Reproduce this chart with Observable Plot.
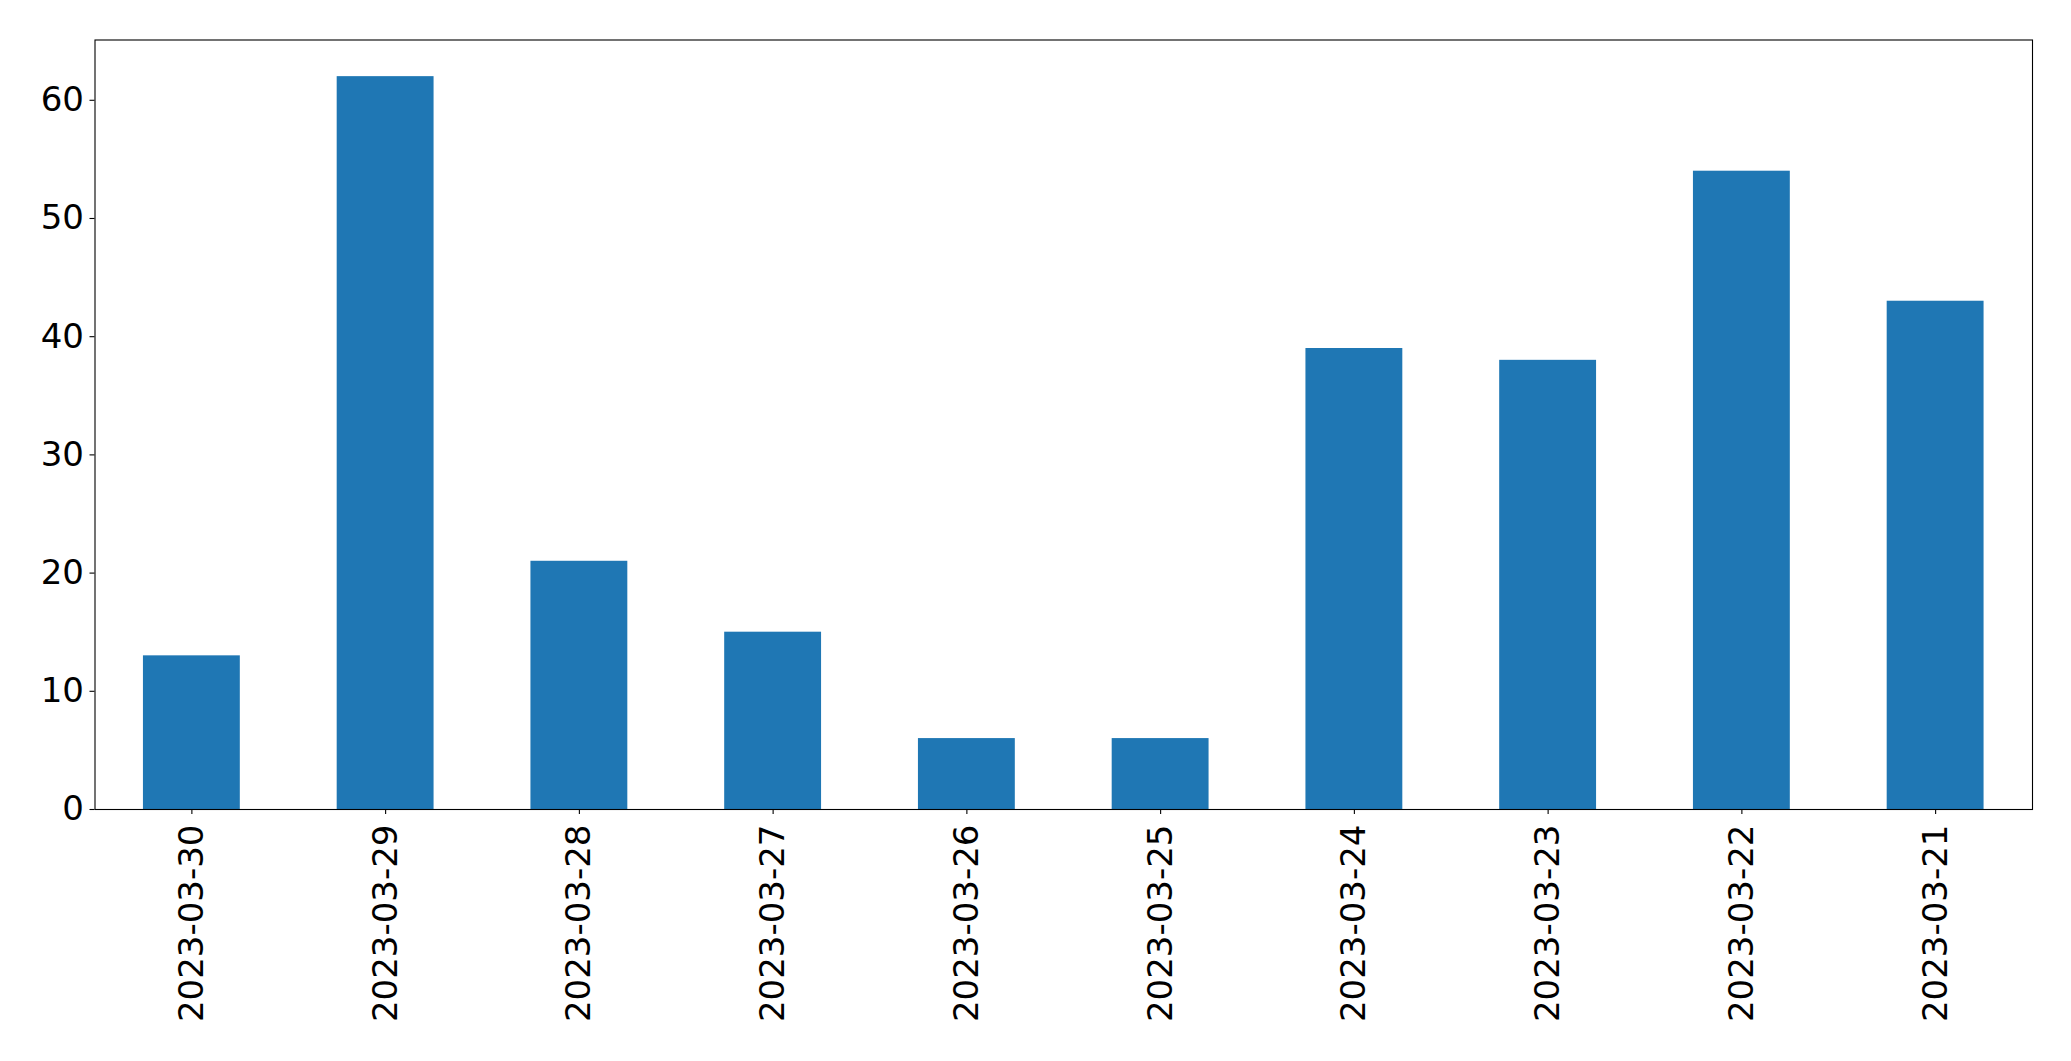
<!DOCTYPE html>
<html>
<head>
<meta charset="utf-8">
<script src="https://cdn.jsdelivr.net/npm/d3@7"></script>
<script src="https://cdn.jsdelivr.net/npm/@observablehq/plot@0.6"></script>
<style>
  html, body { margin: 0; padding: 0; background: #fff; }
  #chart svg { display: block; }
</style>
</head>
<body>
<div id="chart"></div>
<script>
const dates = ["2023-03-30", "2023-03-29", "2023-03-28", "2023-03-27", "2023-03-26",
               "2023-03-25", "2023-03-24", "2023-03-23", "2023-03-22", "2023-03-21"];
const counts = [13, 62, 21, 15, 6, 6, 39, 38, 54, 43];
const yTicks = [0, 10, 20, 30, 40, 50, 60];

const data = dates.map((d, i) => ({date: d, count: counts[i]}));

const chart = Plot.plot({
  width: 2071,
  height: 1061,
  marginLeft: 94.5,
  marginRight: 39,
  marginTop: 39.5,
  marginBottom: 252,
  style: {
    fontFamily: "DejaVu Sans, sans-serif",
    fontSize: "34px",
    background: "#ffffff",
    color: "#000000"
  },
  x: {type: "band", domain: dates, paddingInner: 0.5, paddingOuter: 0.25, round: false, label: null},
  y: {domain: [0, 65.1], label: null},
  marks: [
    Plot.barY(data, {x: "date", y: "count", fill: "#1f77b4", insetLeft: 0, insetRight: 0}),
    Plot.axisY({ticks: yTicks, tickSize: 5, tickPadding: 6, label: null, stroke: "#000", strokeWidth: 1.1}),
    Plot.axisX({tickRotate: -90, tickSize: 5, tickPadding: 10, label: null, stroke: "#000", strokeWidth: 1.1}),
    Plot.frame({stroke: "#000", strokeWidth: 1.1})
  ]
});
document.getElementById("chart").appendChild(chart);
</script>
</body>
</html>
